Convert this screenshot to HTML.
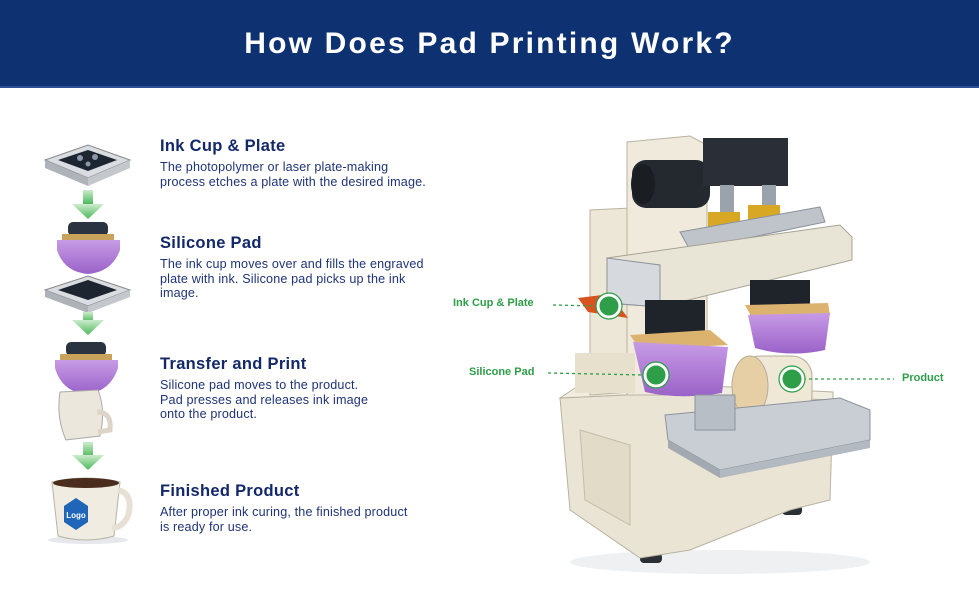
<!DOCTYPE html>
<html><head><meta charset="utf-8"><style>
*{margin:0;padding:0}
body{width:979px;height:600px;background:#fff;position:relative;overflow:hidden;font-family:"Liberation Sans",sans-serif}
.hdr{position:absolute;left:0;top:0;width:979px;height:86px;background:#0e3172;border-bottom:2px solid #2a4f93}
.hdr h1{color:#fff;font-size:30px;font-weight:bold;text-align:center;line-height:88px;letter-spacing:2.2px}
.t{position:absolute;left:160px;color:#13276b}
.t h2{font-size:16.5px;font-weight:bold;margin-bottom:4px;letter-spacing:0.3px}
.t p{font-size:12.6px;line-height:14.5px;color:#1f3478;letter-spacing:0.15px}
.lb{position:absolute;color:#2e9e48;font-size:11px;font-weight:bold}
svg{position:absolute;left:0;top:0}
</style></head><body>
<div class="hdr"><h1>How Does Pad Printing Work?</h1></div>

<svg width="979" height="600" viewBox="0 0 979 600">
<defs>
<linearGradient id="ar" x1="0" y1="0" x2="0" y2="1"><stop offset="0" stop-color="#cdeccd"/><stop offset="1" stop-color="#4bb85a"/></linearGradient>
<linearGradient id="pu" x1="0" y1="0" x2="0" y2="1"><stop offset="0" stop-color="#c79be6"/><stop offset="1" stop-color="#9a62c8"/></linearGradient>
</defs>
<polygon points="45,160 88,145 130,160 88,178" fill="#d9dde2" stroke="#888" />
<polygon points="45,160 88,178 88,186 45,168" fill="#aeb3ba"/>
<polygon points="130,160 88,178 88,186 130,168" fill="#c4c8cd"/>
<polygon points="58,160 88,150 117,160 88,171" fill="#1d2530"/>
<circle cx="80" cy="158" r="3" fill="#8a97a8"/><circle cx="95" cy="157" r="3" fill="#8a97a8"/><circle cx="88" cy="164" r="2.5" fill="#8a97a8"/>
<polygon points="45,290 88,276 130,290 88,306" fill="#d9dde2" stroke="#888"/>
<polygon points="45,290 88,306 88,313 45,297" fill="#aeb3ba"/>
<polygon points="130,290 88,306 88,313 130,297" fill="#c4c8cd"/>
<polygon points="58,290 88,280 117,290 88,300" fill="#1d2530"/>
<g fill="url(#ar)">
<rect x="83" y="190" width="10" height="14"/><polygon points="72,204 104,204 88,219"/>
<rect x="83" y="312" width="10" height="10"/><polygon points="72,320 104,320 88,335"/>
<rect x="83" y="442" width="10" height="15"/><polygon points="72,455 104,455 88,470"/>
</g>
<rect x="68" y="222" width="40" height="14" rx="5" fill="#2b3340"/>
<rect x="62" y="234" width="52" height="6" fill="#c9a35b"/>
<path d="M57,240 L120,240 L120,250 Q112,272 88,274 Q64,272 57,250 Z" fill="url(#pu)"/>
<rect x="66" y="342" width="40" height="14" rx="5" fill="#2b3340"/>
<rect x="60" y="354" width="52" height="6" fill="#c9a35b"/>
<path d="M55,360 L118,360 L118,368 Q110,392 86,394 Q62,392 55,368 Z" fill="url(#pu)"/>
<path d="M60,392 L98,390 Q106,410 100,436 L66,440 Q56,418 60,392Z" fill="#ece7dc" stroke="#aaa"/>
<path d="M97,412 Q112,412 110,430 L98,432" fill="none" stroke="#ddd6c8" stroke-width="5"/>
<ellipse cx="88" cy="540" rx="40" ry="4" fill="#e6e8ec"/>
<path d="M52,482 Q86,474 120,482 L114,536 Q86,544 58,536 Z" fill="#f1ece2" stroke="#b9b2a5"/>
<ellipse cx="86" cy="483" rx="33" ry="5" fill="#4a2d1c"/>
<path d="M118,490 Q134,494 128,516 Q122,528 112,528" fill="none" stroke="#e7e1d5" stroke-width="6"/>
<path d="M64,506 L76,498 L88,506 L88,522 L76,530 L64,522Z" fill="#1f65b8"/>
<text x="76" y="518" font-size="8" font-weight="bold" fill="#fff" text-anchor="middle" font-family="Liberation Sans">Logo</text>

<ellipse cx="720" cy="562" rx="150" ry="12" fill="#eef0f2"/>
<rect x="640" y="553" width="22" height="10" rx="4" fill="#2b2f36"/>
<rect x="782" y="505" width="20" height="10" rx="4" fill="#2b2f36"/>
<polygon points="560,398 670,393 833,400 830,500 790,510 690,550 640,558 570,510" fill="#e9e4d3" stroke="#b8b2a0"/>
<polygon points="580,430 630,445 630,525 585,500" fill="#e1dbc7" stroke="#c4bda8"/>
<polygon points="560,398 575,388 670,384 833,392 833,400 670,393" fill="#f1ede0" stroke="#b8b2a0"/>
<polygon points="590,210 630,208 630,392 590,395" fill="#ece7d6" stroke="#b8b2a0"/>
<polygon points="627,142 690,136 707,145 707,395 627,395" fill="#efeadb" stroke="#b8b2a0"/>
<rect x="575" y="353" width="60" height="40" fill="#e6e0cd"/>
<rect x="632" y="160" width="78" height="48" rx="14" fill="#24282f"/>
<ellipse cx="643" cy="184" rx="12" ry="20" fill="#1a1d22"/>
<rect x="703" y="138" width="85" height="48" fill="#2a2f37"/>
<rect x="720" y="185" width="14" height="30" fill="#9aa2ab"/>
<rect x="762" y="185" width="14" height="30" fill="#9aa2ab"/>
<rect x="708" y="212" width="32" height="20" fill="#d8a825"/>
<rect x="748" y="205" width="32" height="20" fill="#d8a825"/>
<polygon points="680,232 820,207 825,222 690,250" fill="#bfc4ca" stroke="#8d939b"/>
<polygon points="607,258 840,225 852,237 852,260 660,307 607,303" fill="#e9e5d6" stroke="#a7a394"/>
<polygon points="607,258 660,265 660,307 607,303" fill="#d6d9dd" stroke="#8d939b"/>
<rect x="645" y="300" width="60" height="40" fill="#1f232a"/>
<rect x="750" y="280" width="60" height="35" fill="#1f232a"/>
<polygon points="630,335 710,330 728,345 640,350" fill="#dcb26f"/>
<path d="M633,342 L728,347 L722,393 Q680,400 645,392 Z" fill="url(#pu)"/>
<polygon points="745,305 828,303 830,315 752,318" fill="#dcb26f"/>
<path d="M748,315 L830,313 L825,350 Q790,358 755,348 Z" fill="url(#pu)"/>
<polygon points="578,298 610,294 628,318 588,312" fill="#d9531f"/>
<rect x="740" y="356" width="72" height="60" rx="20" fill="#efe8d6" stroke="#b6ad98"/>
<ellipse cx="750" cy="386" rx="18" ry="30" fill="#e6cfa5" stroke="#b6ad98"/>
<polygon points="665,415 840,398 870,410 870,440 720,470 668,440" fill="#c9ced4" stroke="#8d939b"/>
<polygon points="668,440 720,470 720,478 668,448" fill="#a3a9b1"/>
<polygon points="720,470 870,440 870,448 720,478" fill="#b3b9c0"/>
<rect x="695" y="395" width="40" height="35" fill="#b8bec5" stroke="#8d939b"/>
<g stroke="#2e9e48" stroke-width="1.3" stroke-dasharray="3,3" fill="none">
<line x1="553" y1="305" x2="597" y2="306"/>
<line x1="548" y1="373" x2="645" y2="375"/>
<line x1="803" y1="379" x2="894" y2="379"/>
</g>
<g fill="#2e9e48" stroke="#fff" stroke-width="3">
<circle cx="609" cy="306" r="11"/><circle cx="656" cy="375" r="11"/><circle cx="792" cy="379" r="11"/>
</g>
<g fill="none" stroke="#2e9e48" stroke-width="1.2">
<circle cx="609" cy="306" r="13"/><circle cx="656" cy="375" r="13"/><circle cx="792" cy="379" r="13"/>
</g>
</svg>

<div class="lb" style="left:453px;top:297px">Ink Cup &amp; Plate</div>
<div class="lb" style="left:469px;top:366px">Silicone Pad</div>
<div class="lb" style="left:902px;top:372px">Product</div>

<div class="t" style="top:137px"><h2>Ink Cup &amp; Plate</h2><p>The photopolymer or laser plate-making<br>process etches a plate with the desired image.</p></div>
<div class="t" style="top:234px"><h2>Silicone Pad</h2><p>The ink cup moves over and fills the engraved<br>plate with ink. Silicone pad picks up the ink<br>image.</p></div>
<div class="t" style="top:355px"><h2>Transfer and Print</h2><p>Silicone pad moves to the product.<br>Pad presses and releases ink image<br>onto the product.</p></div>
<div class="t" style="top:482px"><h2>Finished Product</h2><p>After proper ink curing, the finished product<br>is ready for use.</p></div>
</body></html>
